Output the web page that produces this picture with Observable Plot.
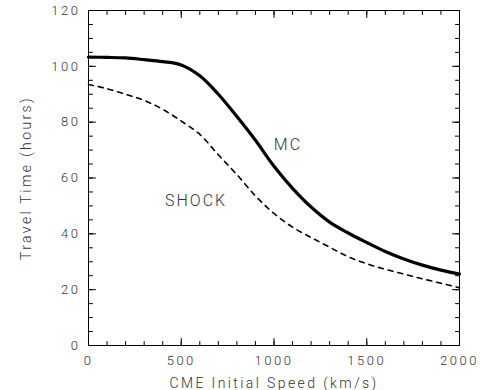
<!DOCTYPE html>
<html>
<head>
<meta charset="utf-8">
<script src="https://cdn.jsdelivr.net/npm/d3@7"></script>
<script src="https://cdn.jsdelivr.net/npm/@observablehq/plot@0.6"></script>
<style>
  html, body { margin: 0; padding: 0; background: #fff; }
  #chart svg { display: block; }
</style>
</head>
<body>
<div id="chart"></div>
<script>
// Data
const speed = [0, 100, 200, 300, 400, 500, 600, 700, 800, 900, 1000, 1100, 1200, 1300, 1400, 1500, 1600, 1700, 1800, 1900, 2000];
const mcTime = [103.3, 103.2, 103.0, 102.4, 101.7, 100.5, 96.6, 90.0, 82.0, 73.5, 64.2, 56.3, 49.6, 44.2, 40.3, 36.9, 33.7, 31.0, 28.8, 27.0, 25.6];
const shockTime = [93.5, 92.0, 90.0, 87.8, 84.6, 80.4, 75.6, 68.3, 61.2, 53.6, 47.3, 42.4, 38.7, 35.2, 31.8, 29.3, 27.3, 25.6, 23.9, 22.3, 20.7];

const labelText = ["MC", "SHOCK"];
const labelX = [1075, 580];
const labelY = [71.8, 51.8];

const xMajorTicks = [0, 500, 1000, 1500, 2000];
const xMinorTicks = d3.range(0, 2001, 100);
const yMajorTicks = [0, 20, 40, 60, 80, 100, 120];
const yMinorTicks = d3.range(0, 121, 5);

const mcData = speed.map((s, i) => ({speed: s, time: mcTime[i]}));
const shockData = speed.map((s, i) => ({speed: s, time: shockTime[i]}));
const labels = labelText.map((t, i) => ({text: t, x: labelX[i], y: labelY[i]}));

const font = "Roboto";
const textColor = "#333";

// inward-pointing tick marks drawn as vectors anchored on each side of the frame
const tickShape = {draw(context, l) { context.moveTo(0, 0); context.lineTo(0, -l); }};
function inTicks(anchor, ticks, size) {
  const rotate = {bottom: 0, top: 180, left: 90, right: -90}[anchor];
  const pos = (anchor === "bottom" || anchor === "top") ? {x: d => d} : {y: d => d};
  return Plot.vector(ticks, {...pos, frameAnchor: anchor, length: size, rotate, anchor: "start", shape: tickShape, stroke: "#000", strokeWidth: 1});
}

const chart = Plot.plot({
  width: 481,
  height: 390,
  marginLeft: 88,
  marginRight: 22,
  marginTop: 10,
  marginBottom: 45,
  style: {fontFamily: font, background: "#fff", color: textColor, fontWeight: 300},
  x: {domain: [0, 2000]},
  y: {domain: [0, 120]},
  marks: [
    Plot.frame({stroke: "#000"}),
    inTicks("bottom", xMajorTicks, 7),
    inTicks("bottom", xMinorTicks, 4),
    inTicks("top", xMajorTicks, 7),
    inTicks("top", xMinorTicks, 4),
    inTicks("left", yMajorTicks, 7),
    inTicks("left", yMinorTicks, 4),
    inTicks("right", yMajorTicks, 7),
    inTicks("right", yMinorTicks, 4),
    Plot.axisX({
      anchor: "bottom", ticks: xMajorTicks, tickSize: 0, tickPadding: 10,
      tickFormat: d => String(d), fontSize: 13, fill: textColor,
      label: "CME Initial Speed (km/s)", labelAnchor: "center", labelArrow: "none", labelOffset: 42
    }),
    Plot.axisY({
      anchor: "left", ticks: yMajorTicks, tickSize: 0, tickPadding: 8,
      tickFormat: d => String(d), fontSize: 13, fill: textColor,
      label: "Travel Time (hours)", labelAnchor: "center", labelArrow: "none", labelOffset: 67
    }),
    Plot.line(shockData, {x: "speed", y: "time", curve: "catmull-rom", stroke: "#000", strokeWidth: 1.6, strokeDasharray: "5,5"}),
    Plot.line(mcData, {x: "speed", y: "time", curve: "catmull-rom", stroke: "#000", strokeWidth: 3.2}),
    Plot.text(labels, {x: "x", y: "y", text: "text", fontSize: 16, fill: textColor, fontFamily: font})
  ]
});

const svg = d3.select(chart);
svg.selectAll("g[aria-label$='tick label'] text").style("letter-spacing", "2.5px");
svg.selectAll("text").filter(function() { return /Speed|Travel/.test(this.textContent); }).style("font-size", "14px").style("letter-spacing", "2.4px");
svg.selectAll("g[aria-label='text'] text").style("letter-spacing", "2px");
document.getElementById("chart").append(chart);
</script>
</body>
</html>
